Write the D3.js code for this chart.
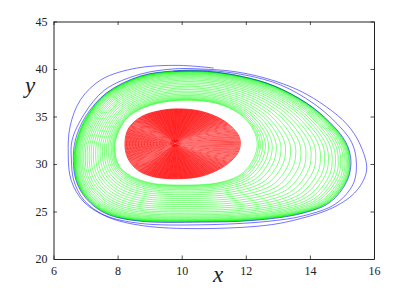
<!DOCTYPE html>
<html>
<head>
<meta charset="utf-8">
<script src="https://cdn.jsdelivr.net/npm/d3@7"></script>
<style>
  body { margin: 0; background: #fff; }
  svg { display: block; }
</style>
</head>
<body>
<div id="chart"></div>
<script>
// axis ticks
var xTicks = [6, 8, 10, 12, 14, 16];
var yTicks = [20, 25, 30, 35, 40, 45];

// green band: inner edge and outer edge (limit cycle)
var greenInX = [7.92, 7.95, 8.10, 8.40, 8.95, 9.60, 10.30, 11.00, 11.60, 12.00, 12.25, 12.35, 12.33, 12.20, 11.92, 11.50, 10.90, 10.10, 9.20, 8.55, 8.15, 7.97];
var greenInY = [31.6, 32.6, 33.9, 35.15, 36.1, 36.6, 36.7, 36.45, 35.7, 34.7, 33.5, 32.4, 31.4, 30.3, 29.1, 28.35, 27.9, 27.78, 27.9, 28.5, 29.4, 30.4];
var greenOutX = [6.65, 6.72, 7.04, 7.66, 8.70, 9.74, 10.80, 11.90, 12.90, 13.90, 14.60, 15.10, 15.25, 15.15, 14.60, 13.69, 12.20, 10.60, 8.70, 7.66, 7.04, 6.72];
var greenOutY = [30.4, 32.5, 35.0, 37.45, 39.2, 39.75, 39.75, 39.2, 38.2, 36.4, 34.4, 32.3, 30.4, 28.3, 26.0, 24.8, 24.1, 23.93, 24.03, 24.81, 26.39, 28.32];
// where each green loop sits between inner (0) and outer (1) edge
var greenT = [0, 0.015, 0.035, 0.06, 0.09, 0.125, 0.165, 0.21, 0.26, 0.31, 0.365, 0.42, 0.475, 0.53, 0.585,
              0.635, 0.685, 0.73, 0.77, 0.81, 0.845, 0.875, 0.9, 0.925, 0.945, 0.96, 0.972, 0.982, 0.99, 0.995, 1.0];

// red spiral: outer loop, focus and loop sizes
var redX = [8.23, 8.35, 8.75, 9.30, 9.90, 10.60, 11.25, 11.70, 11.83, 11.70, 11.25, 10.60, 9.90, 9.20, 8.65, 8.32];
var redY = [32.2, 33.8, 35.0, 35.6, 35.8, 35.55, 34.7, 33.4, 32.2, 30.9, 29.6, 28.7, 28.45, 28.6, 29.3, 30.6];
var redFocus = [9.79, 32.18];
var redS = [1.00, 0.985, 0.97, 0.955, 0.94, 0.925, 0.91, 0.895, 0.88, 0.865, 0.85, 0.835, 0.82, 0.805, 0.79,
            0.775, 0.76, 0.745, 0.73, 0.715, 0.70, 0.685, 0.67, 0.655, 0.64, 0.625, 0.61, 0.595, 0.58, 0.565,
            0.55, 0.535, 0.52, 0.505, 0.49, 0.475, 0.46, 0.445, 0.43, 0.415, 0.40, 0.385, 0.37, 0.355, 0.34,
            0.325, 0.31, 0.295, 0.28, 0.265, 0.25, 0.235, 0.22, 0.205, 0.19, 0.175, 0.16, 0.145, 0.13, 0.115,
            0.10, 0.09, 0.08, 0.07, 0.06, 0.05, 0.04, 0.03, 0.02];

// blue trajectory, starting near (11, 40.1) and spiralling in onto the limit cycle
var blueX = [11.0, 9.9, 8.6, 7.5, 6.85, 6.52, 6.46, 6.55, 6.95, 7.7, 8.8, 10.5, 12.65, 13.7, 14.75, 15.46, 15.77, 15.56, 15.15, 14.52, 13.69, 12.65, 11.6, 10.6,
             9.8, 8.7, 7.6, 6.95, 6.58, 6.56, 6.63, 6.95, 7.6, 8.7, 10.6, 12.65, 13.8, 14.8, 15.35, 15.45, 15.3, 14.8, 14.1, 13.1, 12.0, 10.8,
             9.74, 8.7, 7.66, 7.0, 6.68, 6.62, 6.7, 7.02, 7.65, 8.7, 10.6, 12.2, 13.69, 14.62, 15.17, 15.28, 15.12, 14.62, 13.9, 12.9, 11.9, 10.8, 9.74];
var blueY = [40.1, 40.38, 40.1, 38.9, 36.8, 34.0, 31.0, 28.3, 26.0, 24.4, 23.5, 23.2, 23.55, 24.25, 25.45, 27.2, 29.4, 32.1, 34.2, 36.0, 37.7, 39.0, 39.75, 40.0,
             40.02, 39.45, 37.8, 35.2, 32.5, 30.4, 28.3, 26.2, 24.6, 23.75, 23.6, 23.95, 24.55, 25.8, 27.9, 30.2, 32.3, 34.4, 36.4, 38.3, 39.35, 39.85,
             39.8, 39.25, 37.5, 35.0, 32.5, 30.4, 28.3, 26.35, 24.75, 23.98, 23.88, 24.05, 24.75, 25.95, 28.3, 30.4, 32.3, 34.4, 36.4, 38.2, 39.2, 39.75, 39.75];

var W = 413, H = 292;
var m = { left: 53.5, right: 374, top: 21.5, bottom: 259 };
var serif = '"Liberation Serif", "Times New Roman", Times, serif';

var svg = d3.select("#chart").append("svg")
  .attr("width", W).attr("height", H);

var x = d3.scaleLinear().domain([6, 16]).range([m.left, m.right]);
var y = d3.scaleLinear().domain([20, 45]).range([m.bottom, m.top]);

svg.append("clipPath").attr("id", "plot")
  .append("rect")
    .attr("x", m.left).attr("y", m.top)
    .attr("width", m.right - m.left).attr("height", m.bottom - m.top);

var g = svg.append("g").attr("clip-path", "url(#plot)");

var loop = d3.line()
  .x(function(d) { return x(d[0]); })
  .y(function(d) { return y(d[1]); })
  .curve(d3.curveCardinalClosed.tension(0));

// red loops
g.selectAll(".red")
  .data(redS)
  .enter()
  .append("path")
    .attr("class", "red")
    .attr("d", function(s) {
      var pts = redX.map(function(v, i) {
        return [redFocus[0] + s * (v - redFocus[0]), redFocus[1] + s * (redY[i] - redFocus[1])];
      });
      return loop(pts);
    })
    .attr("fill", "none")
    .attr("stroke", "#ff0000")
    .attr("stroke-width", 0.7);

// green loops
g.selectAll(".green")
  .data(greenT)
  .enter()
  .append("path")
    .attr("class", "green")
    .attr("d", function(t) {
      var pts = greenInX.map(function(v, i) {
        return [v + t * (greenOutX[i] - v), greenInY[i] + t * (greenOutY[i] - greenInY[i])];
      });
      return loop(pts);
    })
    .attr("fill", "none")
    .attr("stroke", "#00ff00")
    .attr("stroke-width", 0.5);

// blue trajectory
var blue = d3.line()
  .x(function(d) { return x(d[0]); })
  .y(function(d) { return y(d[1]); })
  .curve(d3.curveCatmullRom);

g.append("path")
  .datum(blueX.map(function(v, i) { return [v, blueY[i]]; }))
  .attr("d", blue)
  .attr("fill", "none")
  .attr("stroke", "#0000ff")
  .attr("stroke-width", 0.55);

// axes, MATLAB style box with inward ticks
var tick = 3.5;
var axes = [
  svg.append("g").attr("transform", "translate(0," + m.bottom + ")")
    .call(d3.axisBottom(x).tickValues(xTicks).tickSizeInner(-tick).tickSizeOuter(0).tickPadding(7)),
  svg.append("g").attr("transform", "translate(0," + m.top + ")")
    .call(d3.axisTop(x).tickValues(xTicks).tickSizeInner(-tick).tickSizeOuter(0).tickFormat("")),
  svg.append("g").attr("transform", "translate(" + m.left + ",0)")
    .call(d3.axisLeft(y).tickValues(yTicks).tickSizeInner(-tick).tickSizeOuter(0).tickPadding(6)),
  svg.append("g").attr("transform", "translate(" + m.right + ",0)")
    .call(d3.axisRight(y).tickValues(yTicks).tickSizeInner(-tick).tickSizeOuter(0).tickFormat(""))
];
axes.forEach(function(a) {
  a.attr("font-family", serif).attr("font-size", 12);
});

svg.selectAll(".domain").attr("stroke", "#222").attr("stroke-width", 1);
svg.selectAll(".tick line").attr("stroke", "#222").attr("stroke-width", 0.8);
svg.selectAll(".tick text")
  .style("font-family", serif)
  .style("font-size", "12px")
  .style("fill", "#222");

svg.append("text")
  .attr("x", 218).attr("y", 282)
  .attr("text-anchor", "middle")
  .style("font-family", serif)
  .style("font-size", "23px")
  .style("font-style", "italic")
  .style("fill", "#222")
  .text("x");

svg.append("text")
  .attr("x", 30).attr("y", 93)
  .attr("text-anchor", "middle")
  .style("font-family", serif)
  .style("font-size", "23px")
  .style("font-style", "italic")
  .style("fill", "#222")
  .text("y");
</script>
</body>
</html>
